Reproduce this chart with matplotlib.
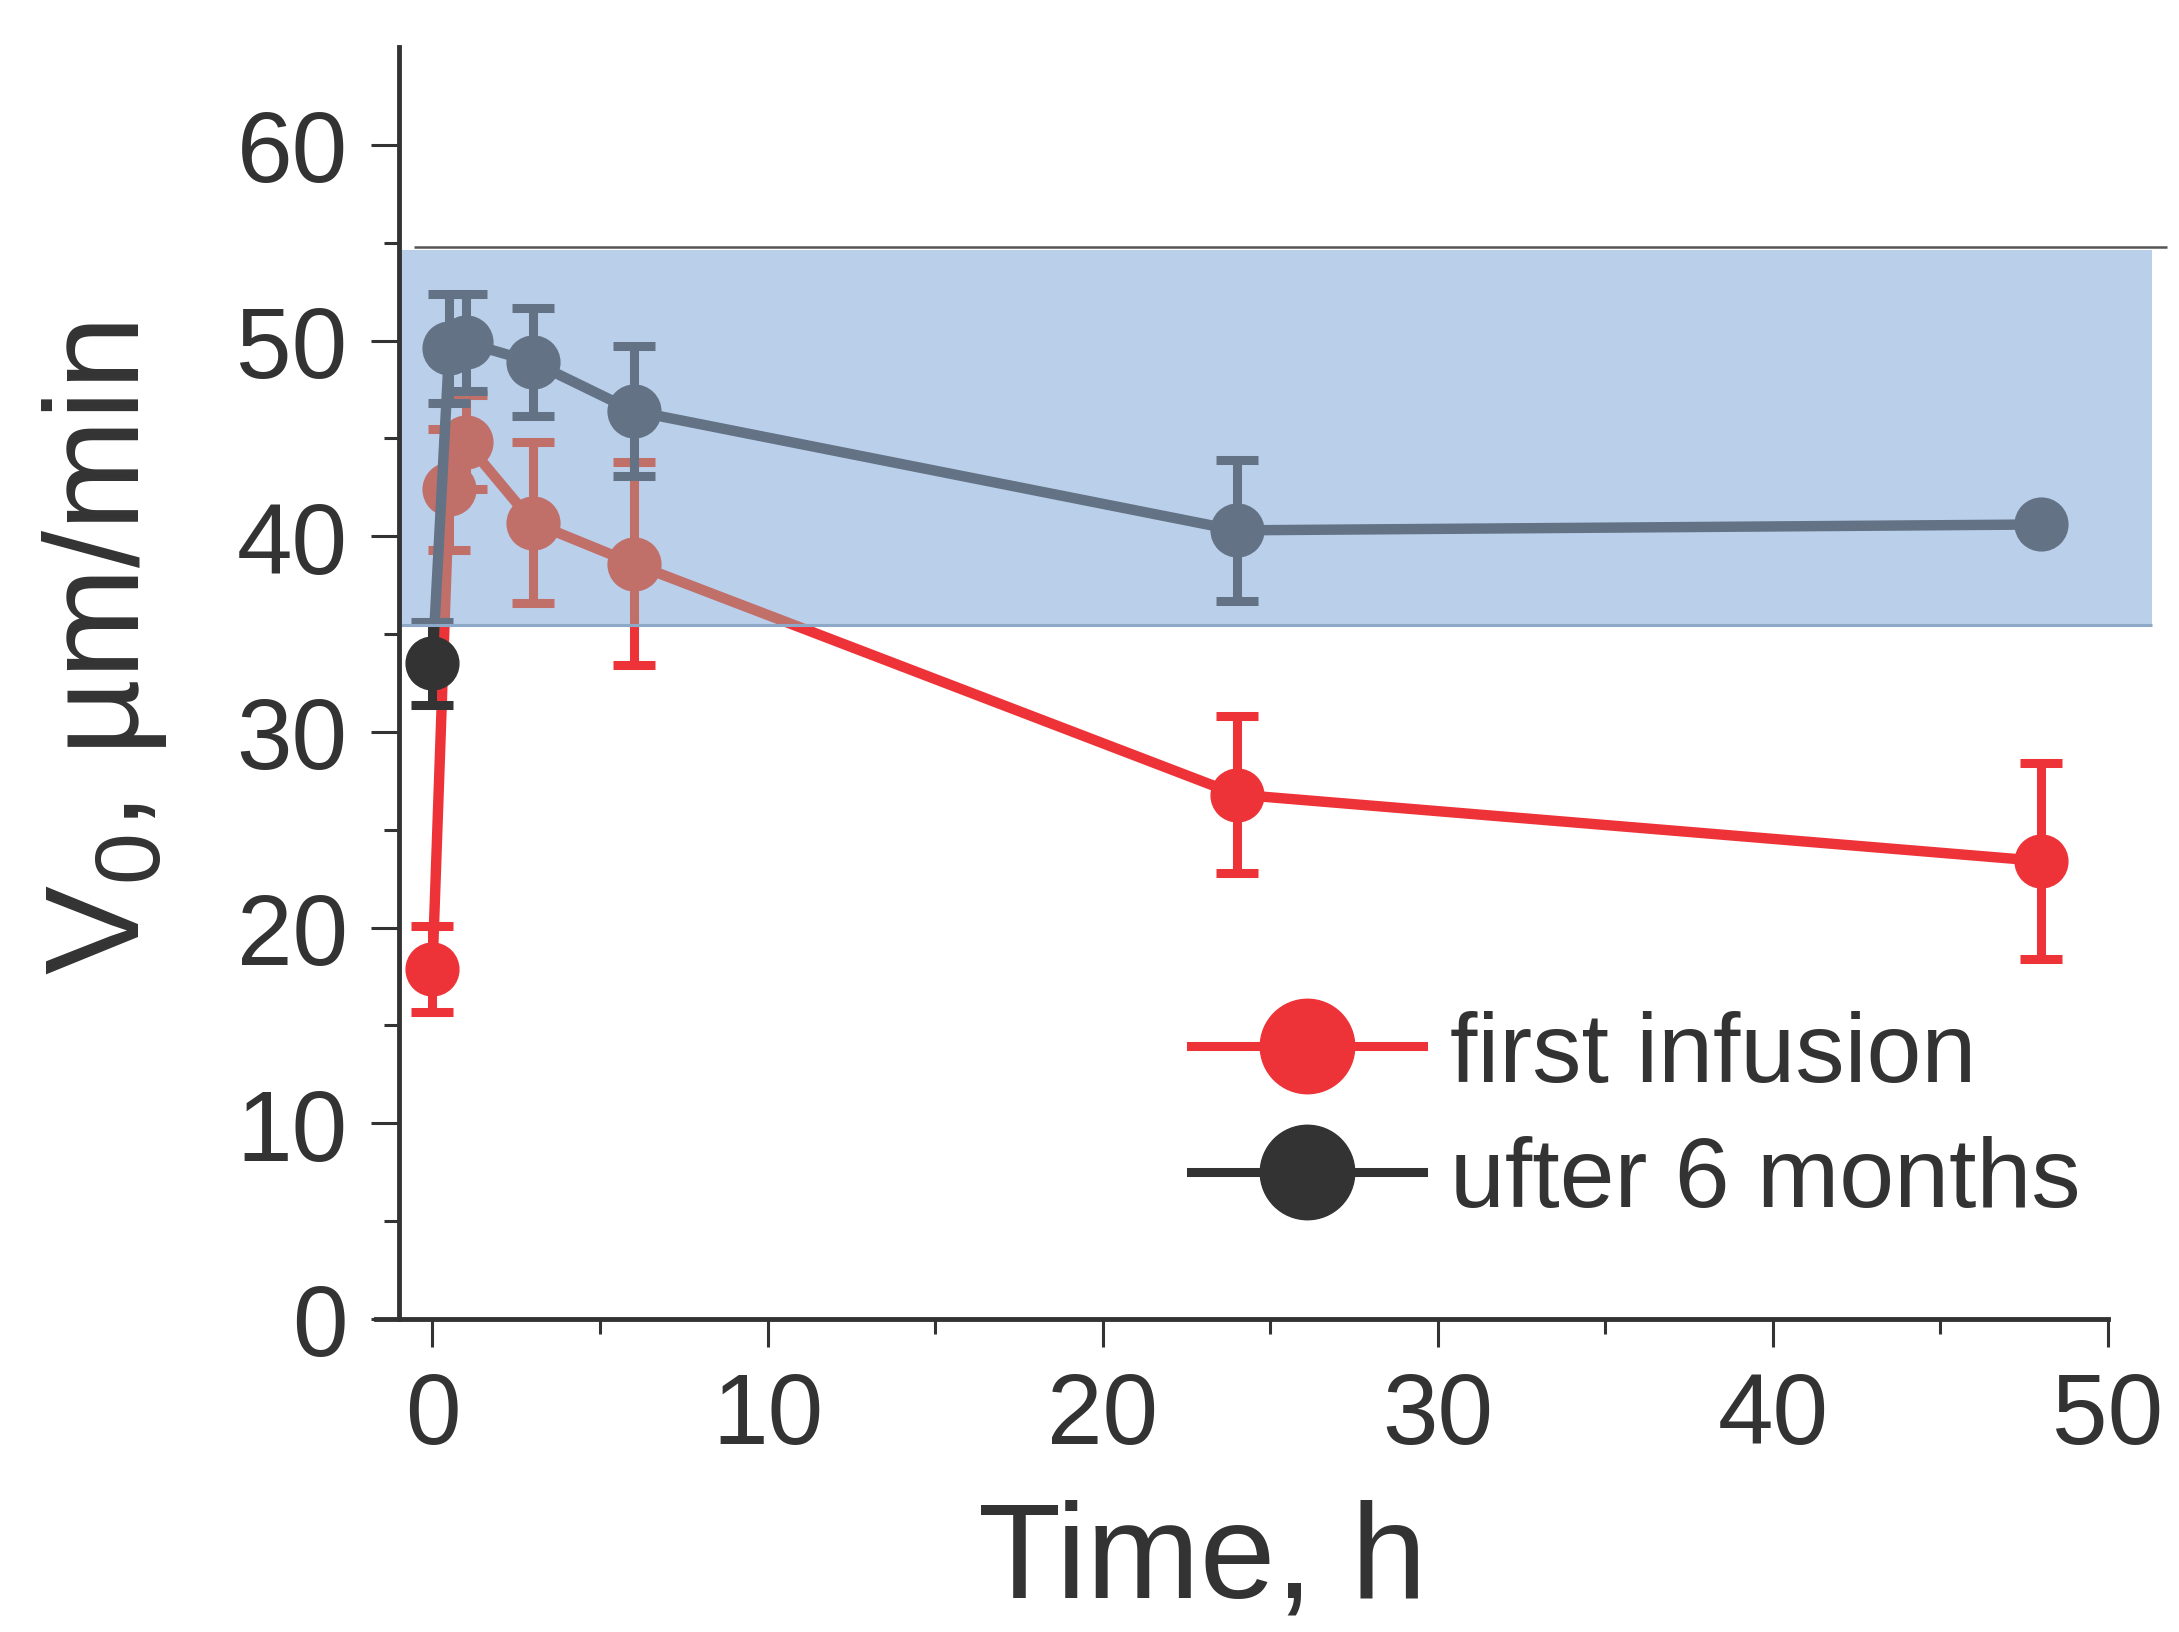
import matplotlib
matplotlib.use("Agg")
import matplotlib.pyplot as plt
from matplotlib.patches import Rectangle
from matplotlib.lines import Line2D
from matplotlib.ticker import MultipleLocator

# Data
time_h = [0, 0.5, 1, 3, 6, 24, 48]
first_v = [17.9, 42.4, 44.8, 40.7, 38.6, 26.8, 23.4]
first_err = [2.2, 3.1, 2.4, 4.1, 5.2, 4.0, 5.0]
later_v = [33.5, 49.6, 49.9, 48.9, 46.4, 40.3, 40.6]
later_err = [2.1, 2.8, 2.5, 2.75, 3.3, 3.6, 0.0]
series_labels = ["first infusion", "ufter 6 months"]

# normal range band
band_low, band_high = 35.45, 54.65
band_x0, band_x1 = -1, 51.3

plt.rcParams["font.family"] = ["Liberation Sans", "DejaVu Sans"]
plt.rcParams["mathtext.default"] = "regular"
txt = "#333333"

red = "#ee3338"
dark = "#333333"
red_in = "#c16f69"
dark_in = "#637284"
band_col = "#b9cfea"

fig = plt.figure(figsize=(21.79, 16.33), dpi=100)
ax = fig.add_axes([0.1831, 0.1917, 0.7843, 0.7789])

style = dict(marker="o", ms=38, lw=7.5, elinewidth=6.5, capsize=15, capthick=6.5)

# full colour series (visible outside the band)
ax.errorbar(time_h, first_v, yerr=first_err, color=red, mec=red, zorder=2, **style)
ax.errorbar(time_h, later_v, yerr=later_err, color=dark, mec=dark, zorder=2.2, **style)

# band drawn on top, then muted copies clipped to it
band = Rectangle((band_x0, band_low), band_x1 - band_x0, band_high - band_low,
                 fc=band_col, ec="none", zorder=3, clip_on=False)
ax.add_patch(band)
clip_rect = Rectangle((band_x0, band_low), band_x1 - band_x0, band_high - band_low,
                      transform=ax.transData)

e3 = ax.errorbar(time_h, first_v, yerr=first_err, color=red_in, mec=red_in, zorder=4, **style)
e4 = ax.errorbar(time_h, later_v, yerr=later_err, color=dark_in, mec=dark_in, zorder=4.2, **style)
for cont in (e3, e4):
    arts = [cont.lines[0]] + list(cont.lines[1]) + list(cont.lines[2])
    for a in arts:
        a.set_clip_path(clip_rect)

# band edges
ax.plot([band_x0, band_x1], [band_low, band_low], color="#8ea8c8", lw=2.2,
        zorder=5, clip_on=False, solid_capstyle="butt")
ax.plot([-0.55, 51.76], [54.8, 54.8], color="#555555", lw=1.8,
        zorder=5, clip_on=False, solid_capstyle="butt")

ax.set_xlim(-1, 50)
ax.set_ylim(0, 65)

for s in ["top", "right"]:
    ax.spines[s].set_visible(False)
for s in ["left", "bottom"]:
    ax.spines[s].set_linewidth(3.5)
    ax.spines[s].set_color(dark)
    ax.spines[s].set_zorder(10)
ax.spines["bottom"].set_bounds(-1.7, 50)

ax.set_xticks(range(0, 51, 10))
ax.set_yticks(range(0, 61, 10))
ax.xaxis.set_minor_locator(MultipleLocator(5))
ax.set_yticks(range(5, 60, 10), minor=True)
ax.tick_params(which="major", direction="out", length=20, width=2.2, color=dark,
               labelsize=72, labelcolor=txt)
ax.tick_params(which="minor", direction="out", length=11, width=2.2, color=dark)
ax.tick_params(axis="y", which="major", pad=17)
ax.tick_params(axis="x", which="major", pad=17)

fig.text(0.048, 0.6026, "V$_0$, µm/min", rotation=90, ha="center", va="center",
         fontsize=96, color=txt)
fig.text(0.5517, 0.022, "Time, h", ha="center", va="baseline",
         fontsize=98, color=txt)

handles = [Line2D([], [], color=red, lw=6.5, marker="o", ms=68),
           Line2D([], [], color=dark, lw=6.5, marker="o", ms=68)]
leg = ax.legend(handles, series_labels, loc="upper left",
                bbox_to_anchor=(0.5466, 0.381), bbox_transform=fig.transFigure,
                frameon=False, fontsize=71, handlelength=2.35, handletextpad=0.28,
                labelspacing=0.35, borderpad=0, borderaxespad=0)
for t in leg.get_texts():
    t.set_color(txt)
leg.set_zorder(20)

fig.savefig("out.png", dpi=100)
